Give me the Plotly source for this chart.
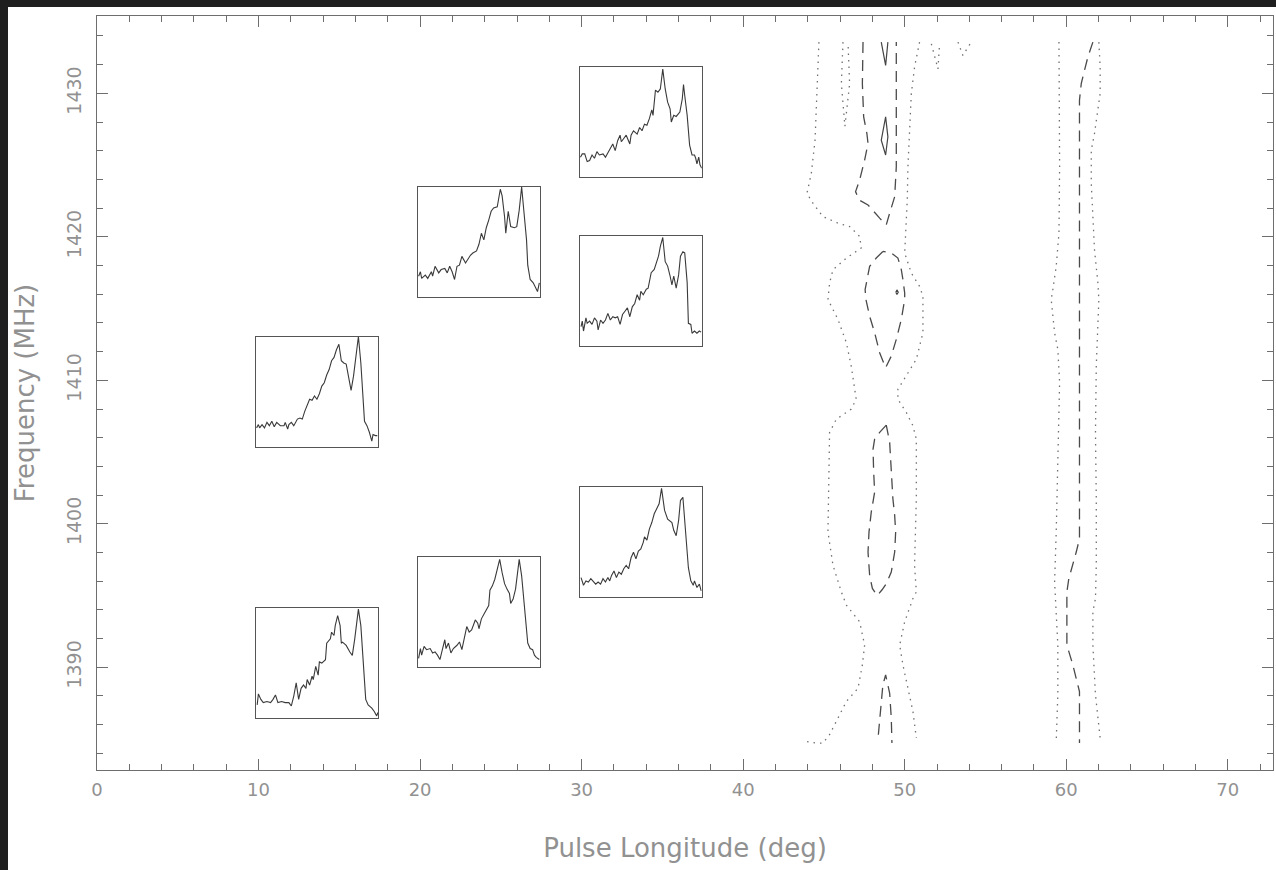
import plotly.graph_objects as go

# ---------------------------------------------------------------------------
# Contour map of pulse intensity vs. longitude and frequency.
# Each contour path is a list of (longitude [deg], frequency [MHz]) vertices.
# ---------------------------------------------------------------------------

# lowest level (dotted)
lvl1_left = [(44.69, 1433.57), (44.57, 1429.98), (44.45, 1426.74), (44.22, 1424.42), (43.95, 1423.03),
             (44.32, 1422.34), (44.94, 1421.41), (45.87, 1420.95), (46.59, 1420.72), (47.21, 1420.03),
             (47.31, 1419.22), (46.39, 1418.52), (45.56, 1417.71), (45.35, 1416.78), (45.25, 1415.63),
             (45.87, 1414.24), (46.39, 1412.62), (46.69, 1410.99), (46.90, 1409.61), (47.00, 1408.68),
             (46.69, 1407.99), (45.77, 1407.29), (45.35, 1406.37), (45.31, 1404.05), (45.25, 1399.42),
             (45.56, 1397.11), (46.08, 1395.25), (46.39, 1394.33), (47.21, 1393.17), (47.52, 1391.55),
             (47.38, 1390.16), (47.11, 1388.54), (46.39, 1387.62), (45.87, 1386.46), (45.35, 1385.30),
             (44.94, 1384.72), (44.53, 1384.72), (43.81, 1384.84)]
lvl1_right = [(50.92, 1433.57), (50.61, 1431.83), (50.41, 1429.98), (50.30, 1427.20), (50.20, 1424.89),
              (50.16, 1422.57), (50.06, 1420.26), (50.00, 1418.87), (50.41, 1417.48), (50.92, 1416.55),
              (51.13, 1415.86), (51.13, 1413.31), (50.72, 1411.46), (50.10, 1410.30), (49.58, 1409.38),
              (49.58, 1408.68), (50.10, 1407.76), (50.51, 1406.83), (50.72, 1405.90), (50.72, 1401.74),
              (50.61, 1397.11), (50.72, 1395.25), (50.51, 1394.79), (50.00, 1393.17), (49.69, 1391.55),
              (49.89, 1390.16), (50.20, 1388.54), (50.51, 1386.92), (50.72, 1385.07)]
lvl1_pocket = [(46.18, 1433.57), (46.08, 1430.67), (46.30, 1427.70), (46.59, 1430.67), (46.49, 1433.57)]
lvl1_nub_a = [(51.65, 1433.45), (52.06, 1431.70), (52.16, 1433.45)]
lvl1_nub_b = [(53.30, 1433.57), (53.60, 1432.64), (54.12, 1433.57)]
lvl1_trail_left = [(59.55, 1433.57), (59.59, 1429.52), (59.59, 1424.89), (59.55, 1420.26), (59.38, 1417.94),
                   (59.17, 1416.32), (59.07, 1415.63), (59.28, 1413.31), (59.48, 1412.15), (59.59, 1409.84),
                   (59.55, 1407.52), (59.48, 1404.05), (59.38, 1399.42), (59.28, 1395.95), (59.38, 1393.87),
                   (59.48, 1391.55), (59.48, 1388.08), (59.38, 1384.84)]
lvl1_trail_right = [(62.02, 1433.57), (62.10, 1431.83), (62.10, 1429.98), (61.96, 1428.82), (61.75, 1427.20),
                    (61.55, 1426.04), (61.55, 1423.73), (61.65, 1421.41), (61.75, 1419.10), (61.96, 1416.78),
                    (62.02, 1415.63), (61.86, 1410.99), (61.81, 1406.37), (61.86, 1401.74), (61.86, 1397.11),
                    (61.81, 1394.79), (61.65, 1393.87), (61.65, 1391.55), (61.81, 1388.08), (62.10, 1385.07)]

# middle level (dashed)
lvl2_upper = [(47.42, 1433.57), (47.38, 1430.67), (47.46, 1428.36), (47.66, 1427.20), (47.73, 1426.51),
              (47.52, 1425.35), (47.21, 1423.96), (46.96, 1423.15), (47.17, 1422.57), (47.73, 1422.22),
              (48.45, 1421.30), (48.86, 1420.84), (49.07, 1421.65), (49.38, 1422.80), (49.48, 1424.89),
              (49.48, 1429.52), (49.48, 1433.57)]
lvl2_mid = [(48.65, 1418.98), (48.24, 1418.52), (47.83, 1417.94), (47.73, 1417.25), (47.55, 1416.32),
            (47.60, 1415.63), (47.83, 1414.47), (48.14, 1413.31), (48.45, 1411.92), (48.82, 1410.88),
            (49.17, 1411.69), (49.48, 1412.85), (49.79, 1414.24), (50.00, 1415.63), (50.00, 1416.09),
            (49.89, 1417.02), (49.79, 1417.71), (49.58, 1418.52), (49.17, 1418.87), (48.65, 1418.98)]
lvl2_low = [(48.86, 1406.88), (48.45, 1406.37), (48.14, 1405.90), (48.04, 1405.21), (48.08, 1403.59),
            (48.14, 1402.20), (47.93, 1400.81), (47.79, 1399.42), (47.73, 1398.03), (47.83, 1396.41),
            (48.00, 1395.49), (48.30, 1395.00), (48.60, 1395.40), (48.86, 1395.83), (49.17, 1396.64),
            (49.38, 1398.03), (49.44, 1399.42), (49.38, 1400.58), (49.27, 1401.74), (49.17, 1403.59),
            (49.07, 1405.67), (48.86, 1406.88)]
lvl2_bottom = [(48.37, 1385.30), (48.45, 1386.46), (48.55, 1387.38), (48.65, 1388.77), (48.82, 1389.47),
               (49.07, 1388.19), (49.17, 1386.46), (49.21, 1384.72)]
lvl2_trail = [(61.65, 1433.57), (61.34, 1432.53), (61.13, 1431.60), (60.93, 1430.67), (60.82, 1429.52),
              (60.82, 1415.63), (60.82, 1398.96), (60.62, 1398.03), (60.41, 1397.11), (60.16, 1396.18),
              (60.04, 1395.25), (60.04, 1391.55), (60.41, 1390.16), (60.62, 1389.24), (60.82, 1388.31),
              (60.82, 1384.72)]

# highest level (solid)
lvl3_tip = [(48.55, 1433.57), (48.82, 1431.95), (48.96, 1433.57)]
lvl3_lens = [(48.82, 1428.36), (48.55, 1426.74), (48.82, 1425.70), (48.96, 1426.97), (48.82, 1428.36)]
lvl3_spot = [(49.45, 1416.14), (49.52, 1416.30), (49.60, 1416.14), (49.52, 1415.98), (49.45, 1416.14)]

# ---------------------------------------------------------------------------
# Integrated pulse profiles (normalised phase across the window, normalised flux)
# ---------------------------------------------------------------------------
prof_a_phase = [0.01, 0.02, 0.04, 0.06, 0.09, 0.12, 0.14, 0.16, 0.18, 0.21, 0.24, 0.27, 0.29, 0.31, 0.33,
                0.35, 0.37, 0.39, 0.41, 0.42, 0.44, 0.46, 0.47, 0.49, 0.51, 0.52, 0.54, 0.57, 0.58, 0.61,
                0.62, 0.64, 0.65, 0.67, 0.69, 0.70, 0.71, 0.74, 0.77, 0.79, 0.81, 0.83, 0.84, 0.86, 0.88,
                0.90, 0.92, 0.95, 0.97, 0.99, 1.0]
prof_a_flux = [0.12, 0.22, 0.17, 0.14, 0.15, 0.14, 0.17, 0.21, 0.14, 0.15, 0.14, 0.14, 0.11, 0.20, 0.32,
               0.17, 0.27, 0.30, 0.27, 0.35, 0.30, 0.38, 0.35, 0.47, 0.39, 0.51, 0.50, 0.53, 0.68, 0.72,
               0.78, 0.75, 0.84, 0.93, 0.84, 0.68, 0.69, 0.66, 0.60, 0.57, 0.72, 0.90, 0.99, 0.84, 0.51,
               0.17, 0.12, 0.09, 0.06, 0.02, 0.05]

prof_b_phase = [0.005, 0.02, 0.03, 0.05, 0.07, 0.09, 0.11, 0.13, 0.15, 0.17, 0.20, 0.23, 0.24, 0.26, 0.27,
                0.29, 0.31, 0.34, 0.36, 0.38, 0.40, 0.42, 0.44, 0.46, 0.48, 0.50, 0.52, 0.54, 0.56, 0.58,
                0.60, 0.62, 0.64, 0.66, 0.68, 0.70, 0.72, 0.74, 0.76, 0.78, 0.80, 0.82, 0.84, 0.86, 0.88,
                0.89, 0.91, 0.93, 0.95, 0.96, 0.98, 0.995]
prof_b_flux = [0.17, 0.20, 0.17, 0.20, 0.17, 0.22, 0.19, 0.23, 0.18, 0.22, 0.19, 0.19, 0.22, 0.16, 0.20,
               0.22, 0.19, 0.25, 0.26, 0.25, 0.32, 0.38, 0.43, 0.42, 0.46, 0.43, 0.48, 0.55, 0.58, 0.65,
               0.70, 0.78, 0.81, 0.88, 0.93, 0.78, 0.76, 0.75, 0.64, 0.51, 0.64, 0.85, 1.0, 0.76, 0.46,
               0.23, 0.19, 0.13, 0.05, 0.11, 0.10, 0.10]

prof_c_phase = [0.005, 0.02, 0.03, 0.06, 0.08, 0.11, 0.12, 0.14, 0.17, 0.19, 0.22, 0.24, 0.26, 0.28, 0.30,
                0.32, 0.34, 0.36, 0.39, 0.41, 0.43, 0.45, 0.48, 0.50, 0.52, 0.54, 0.56, 0.58, 0.60, 0.62,
                0.65, 0.675, 0.69, 0.71, 0.72, 0.74, 0.76, 0.79, 0.81, 0.83, 0.85, 0.87, 0.89, 0.90, 0.92,
                0.945, 0.96, 0.98, 0.995]
prof_c_flux = [0.19, 0.23, 0.17, 0.20, 0.17, 0.23, 0.19, 0.28, 0.22, 0.25, 0.26, 0.22, 0.28, 0.23, 0.16,
               0.28, 0.29, 0.37, 0.31, 0.35, 0.38, 0.40, 0.42, 0.48, 0.58, 0.52, 0.63, 0.70, 0.78, 0.81,
               0.82, 0.98, 0.92, 0.73, 0.58, 0.78, 0.64, 0.63, 0.64, 0.79, 1.0, 0.76, 0.52, 0.29, 0.16,
               0.13, 0.10, 0.05, 0.13]

prof_d_phase = [0.005, 0.02, 0.03, 0.05, 0.07, 0.10, 0.12, 0.14, 0.16, 0.18, 0.20, 0.22, 0.23, 0.25, 0.27,
                0.29, 0.32, 0.34, 0.36, 0.38, 0.40, 0.42, 0.44, 0.47, 0.49, 0.50, 0.52, 0.545, 0.56, 0.58,
                0.59, 0.61, 0.63, 0.65, 0.67, 0.69, 0.71, 0.73, 0.75, 0.76, 0.78, 0.80, 0.82, 0.83, 0.85,
                0.87, 0.885, 0.90, 0.92, 0.94, 0.955, 0.97, 0.995]
prof_d_flux = [0.08, 0.17, 0.11, 0.19, 0.16, 0.17, 0.13, 0.14, 0.11, 0.07, 0.16, 0.25, 0.17, 0.22, 0.13,
               0.17, 0.20, 0.23, 0.16, 0.26, 0.37, 0.32, 0.34, 0.43, 0.40, 0.35, 0.44, 0.49, 0.52, 0.56,
               0.70, 0.74, 0.80, 0.89, 0.98, 0.86, 0.76, 0.71, 0.67, 0.58, 0.62, 0.71, 0.91, 0.98, 0.83,
               0.59, 0.38, 0.22, 0.17, 0.16, 0.11, 0.09, 0.07]

prof_e_phase = [0.005, 0.02, 0.04, 0.06, 0.08, 0.10, 0.12, 0.14, 0.16, 0.19, 0.21, 0.22, 0.25, 0.27, 0.29,
                0.31, 0.33, 0.34, 0.36, 0.38, 0.41, 0.42, 0.44, 0.47, 0.49, 0.51, 0.53, 0.55, 0.57, 0.59,
                0.60, 0.62, 0.64, 0.66, 0.68, 0.70, 0.72, 0.74, 0.75, 0.77, 0.79, 0.82, 0.84, 0.85, 0.86,
                0.88, 0.90, 0.92, 0.94, 0.95, 0.96, 0.975, 0.985, 1.0]
prof_e_flux = [0.18, 0.21, 0.21, 0.14, 0.15, 0.20, 0.17, 0.23, 0.20, 0.21, 0.18, 0.20, 0.27, 0.30, 0.24,
               0.33, 0.38, 0.32, 0.35, 0.38, 0.30, 0.38, 0.42, 0.39, 0.45, 0.42, 0.48, 0.47, 0.53, 0.61,
               0.56, 0.79, 0.77, 0.80, 0.98, 0.80, 0.68, 0.62, 0.50, 0.56, 0.55, 0.59, 0.71, 0.84, 0.74,
               0.56, 0.29, 0.20, 0.20, 0.17, 0.12, 0.18, 0.11, 0.08]

prof_f_phase = [0.01, 0.02, 0.03, 0.05, 0.06, 0.08, 0.10, 0.12, 0.14, 0.15, 0.17, 0.19, 0.21, 0.23, 0.25,
                0.27, 0.29, 0.31, 0.33, 0.35, 0.37, 0.39, 0.41, 0.43, 0.45, 0.47, 0.49, 0.50, 0.52, 0.545,
                0.56, 0.585, 0.61, 0.63, 0.645, 0.66, 0.68, 0.70, 0.72, 0.74, 0.755, 0.77, 0.79, 0.81, 0.825,
                0.845, 0.86, 0.88, 0.89, 0.91, 0.92, 0.94, 0.96, 0.98, 0.995]
prof_f_flux = [0.18, 0.23, 0.14, 0.26, 0.21, 0.23, 0.20, 0.26, 0.23, 0.15, 0.24, 0.21, 0.24, 0.30, 0.24,
               0.27, 0.26, 0.27, 0.20, 0.29, 0.32, 0.35, 0.27, 0.36, 0.39, 0.47, 0.42, 0.50, 0.47, 0.52,
               0.53, 0.67, 0.70, 0.76, 0.82, 0.91, 0.99, 0.77, 0.73, 0.64, 0.56, 0.64, 0.53, 0.65, 0.82,
               0.86, 0.85, 0.58, 0.21, 0.20, 0.12, 0.14, 0.12, 0.14, 0.13]

prof_g_phase = [0.01, 0.03, 0.05, 0.07, 0.09, 0.11, 0.13, 0.15, 0.17, 0.19, 0.21, 0.23, 0.245, 0.26, 0.28,
                0.30, 0.32, 0.34, 0.36, 0.38, 0.40, 0.42, 0.44, 0.46, 0.48, 0.50, 0.52, 0.53, 0.55, 0.57,
                0.59, 0.61, 0.635, 0.65, 0.67, 0.695, 0.72, 0.735, 0.755, 0.77, 0.79, 0.81, 0.825, 0.845, 0.86,
                0.88, 0.89, 0.91, 0.93, 0.94, 0.96, 0.98, 0.995]
prof_g_flux = [0.18, 0.11, 0.15, 0.14, 0.17, 0.14, 0.12, 0.14, 0.12, 0.17, 0.14, 0.18, 0.15, 0.20, 0.24,
               0.18, 0.23, 0.21, 0.26, 0.29, 0.26, 0.36, 0.41, 0.35, 0.42, 0.44, 0.50, 0.55, 0.52, 0.62,
               0.68, 0.76, 0.82, 0.85, 0.99, 0.79, 0.71, 0.70, 0.68, 0.61, 0.56, 0.70, 0.88, 0.91, 0.70,
               0.45, 0.27, 0.15, 0.11, 0.15, 0.09, 0.12, 0.06]

# ---------------------------------------------------------------------------
# Layout
# ---------------------------------------------------------------------------
W, H = 1276, 870
M_L, M_R, M_T, M_B = 97, 3, 16, 100
X_RANGE = [0.0, 72.8]
Y_RANGE = [1382.84, 1435.39]

INK = "#3a3a3a"
AXIS = "#6e6e6e"
TEXT = "#919191"
FONT = "DejaVu Sans"

# inset windows: lower-left corner in (deg, MHz)
INSET_W, INSET_H = 7.55, 7.67
inset_windows = [
    ((9.84, 1386.46), prof_a_phase, prof_a_flux),
    ((9.84, 1405.38), prof_b_phase, prof_b_flux),
    ((19.87, 1415.80), prof_c_phase, prof_c_flux),
    ((19.87, 1390.00), prof_d_phase, prof_d_flux),
    ((29.89, 1424.17), prof_e_phase, prof_e_flux),
    ((29.89, 1412.36), prof_f_phase, prof_f_flux),
    ((29.89, 1394.87), prof_g_phase, prof_g_flux),
]


def join(paths):
    xs, ys = [], []
    for p in paths:
        xs += [v[0] for v in p] + [None]
        ys += [v[1] for v in p] + [None]
    return xs, ys


fig = go.Figure()

levels = [
    ([lvl1_left, lvl1_right, lvl1_pocket, lvl1_nub_a, lvl1_nub_b, lvl1_trail_left, lvl1_trail_right],
     "1.5px,5px", "#707070", 1.3),
    ([lvl2_upper, lvl2_mid, lvl2_low, lvl2_bottom, lvl2_trail], "11px,7px", "#4a4a4a", 1.3),
    ([lvl3_tip, lvl3_lens, lvl3_spot], "solid", "#444444", 1.2),
]
for paths, dash, color, width in levels:
    xs, ys = join(paths)
    fig.add_trace(go.Scatter(x=xs, y=ys, mode="lines", connectgaps=False,
                             line=dict(color=color, width=width, dash=dash),
                             hoverinfo="skip", showlegend=False))


def to_frac(v, rng):
    return (v - rng[0]) / (rng[1] - rng[0])


layout_axes = {}
for i, ((x0, y0), ph, fl) in enumerate(inset_windows):
    n = i + 2
    fig.add_trace(go.Scatter(x=ph, y=fl, mode="lines", xaxis=f"x{n}", yaxis=f"y{n}",
                             line=dict(color=INK, width=1.1), hoverinfo="skip", showlegend=False))
    layout_axes[f"xaxis{n}"] = dict(domain=[to_frac(x0, X_RANGE), to_frac(x0 + INSET_W, X_RANGE)],
                                    anchor=f"y{n}", range=[0, 1], showline=True, mirror=True,
                                    linecolor="#555555", linewidth=1.2, showticklabels=False,
                                    ticks="", showgrid=False, zeroline=False)
    layout_axes[f"yaxis{n}"] = dict(domain=[to_frac(y0, Y_RANGE), to_frac(y0 + INSET_H, Y_RANGE)],
                                    anchor=f"x{n}", range=[0, 1], showline=True, mirror=True,
                                    linecolor="#555555", linewidth=1.2, showticklabels=False,
                                    ticks="", showgrid=False, zeroline=False)

axis_common = dict(showline=True, linecolor=AXIS, linewidth=1.3, mirror="allticks",
                   ticks="inside", ticklen=11, tickwidth=1.1, tickcolor=AXIS,
                   showgrid=False, zeroline=False)

fig.update_layout(
    width=W, height=H,
    margin=dict(l=M_L, r=M_R, t=M_T, b=M_B, autoexpand=False),
    paper_bgcolor="white", plot_bgcolor="white",
    xaxis=dict(range=X_RANGE, tick0=0, dtick=10,
               minor=dict(dtick=2, ticklen=6, tickcolor=AXIS, ticks="inside"),
               ticklabelstandoff=3,
               tickfont=dict(family=FONT, size=18, color=TEXT),
               title=dict(text="Pulse Longitude (deg)", standoff=40,
                          font=dict(family=FONT, size=26, color=TEXT)),
               **axis_common),
    yaxis=dict(range=Y_RANGE, tick0=1390, dtick=10, tickangle=-90,
               minor=dict(dtick=2, ticklen=6, tickcolor=AXIS, ticks="inside"),
               ticklabelstandoff=7,
               tickfont=dict(family=FONT, size=19, color=TEXT),
               title=dict(text="Frequency (MHz)", standoff=21,
                          font=dict(family=FONT, size=26, color=TEXT)),
               **axis_common),
    showlegend=False,
    shapes=[
        dict(type="rect", xref="paper", yref="paper", x0=-0.2, x1=1.2,
             y0=(H - M_B - 7) / (H - M_T - M_B), y1=1.2,
             fillcolor="#1f1f1f", line=dict(width=0), layer="below"),
        dict(type="rect", xref="paper", yref="paper", x0=-0.2, x1=(8 - M_L) / (W - M_L - M_R),
             y0=-0.3, y1=1.2, fillcolor="#1f1f1f", line=dict(width=0), layer="below"),
    ],
    **layout_axes,
)

fig.write_html("out.html")
